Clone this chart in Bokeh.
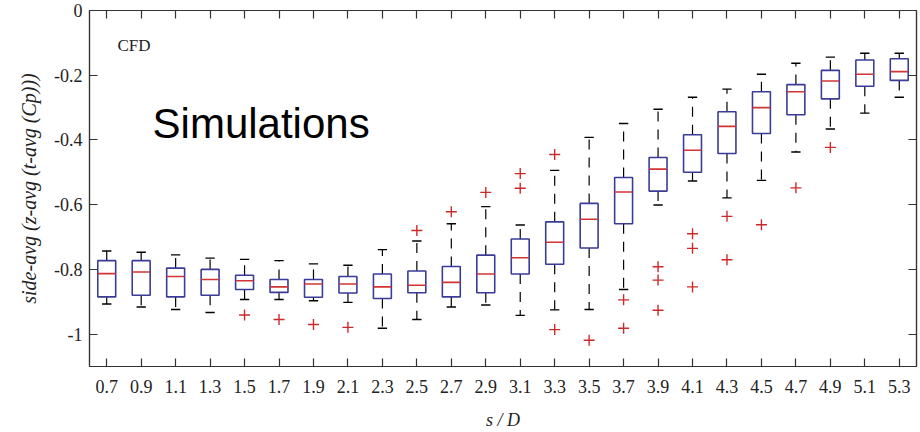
import numpy as np
from bokeh.plotting import figure
from bokeh.models import LinearAxis, FixedTicker, Range1d, Label, CustomJSTickFormatter
from bokeh.embed import file_html
from bokeh.resources import INLINE

labels = ["0.7", "0.9", "1.1", "1.3", "1.5", "1.7", "1.9", "2.1", "2.3", "2.5", "2.7", "2.9",
          "3.1", "3.3", "3.5", "3.7", "3.9", "4.1", "4.3", "4.5", "4.7", "4.9", "5.1", "5.3"]

whisker_hi = [-0.743, -0.747, -0.755, -0.765, -0.769, -0.773, -0.783, -0.787, -0.739, -0.712, -0.659, -0.606,
              -0.663, -0.494, -0.392, -0.349, -0.305, -0.268, -0.243, -0.197, -0.163, -0.144, -0.132, -0.132]
q3 = [-0.773, -0.773, -0.796, -0.800, -0.818, -0.831, -0.831, -0.822, -0.814, -0.805, -0.791, -0.756,
      -0.706, -0.653, -0.596, -0.516, -0.454, -0.384, -0.313, -0.251, -0.229, -0.185, -0.153, -0.149]
median = [-0.813, -0.808, -0.822, -0.831, -0.835, -0.854, -0.845, -0.845, -0.854, -0.849, -0.840, -0.814,
          -0.764, -0.716, -0.645, -0.561, -0.490, -0.432, -0.358, -0.300, -0.251, -0.218, -0.197, -0.189]
q1 = [-0.885, -0.880, -0.885, -0.880, -0.862, -0.871, -0.886, -0.873, -0.890, -0.872, -0.885, -0.872,
      -0.814, -0.784, -0.734, -0.659, -0.558, -0.500, -0.442, -0.380, -0.322, -0.273, -0.234, -0.216]
whisker_lo = [-0.907, -0.916, -0.924, -0.933, -0.893, -0.893, -0.897, -0.902, -0.982, -0.955, -0.916, -0.910,
              -0.942, -0.925, -0.924, -0.862, -0.601, -0.527, -0.579, -0.525, -0.437, -0.366, -0.317, -0.268]

outlier_cat = ["1.5", "1.7", "1.9", "2.1", "2.5", "2.7", "2.9", "3.1", "3.1", "3.3", "3.3", "3.5",
               "3.7", "3.7", "3.9", "3.9", "3.9", "4.1", "4.1", "4.1", "4.3", "4.3", "4.5", "4.7", "4.9"]
outlier_val = [-0.941, -0.955, -0.970, -0.979, -0.680, -0.622, -0.562, -0.504, -0.549, -0.445, -0.986, -1.019,
               -0.894, -0.982, -0.792, -0.833, -0.926, -0.690, -0.735, -0.854, -0.636, -0.770, -0.662, -0.548, -0.423]

y_ticks = [-1.0, -0.8, -0.6, -0.4, -0.2, 0.0]

x = np.arange(1, len(labels) + 1, dtype=float)
ox = np.array([labels.index(c) + 1 for c in outlier_cat], dtype=float)

BOX_W = 0.52
CAP_W = 0.27
BOX_C = "#3b3b98"
MED_C = "#d03434"
OUT_C = "#cc2a2a"
SERIF = "Liberation Serif"

p = figure(width=920, height=432, output_backend="svg", toolbar_location=None,
           x_range=Range1d(0.5, 24.5), y_range=Range1d(-1.1, 0.0),
           min_border_left=89, min_border_right=4, min_border_top=10, min_border_bottom=64)
p.xgrid.visible = False
p.ygrid.visible = False
p.outline_line_color = "#333333"
p.outline_line_width = 1.2
p.background_fill_color = "white"
p.border_fill_color = "white"

# whiskers (dashed) from box edges toward caps
p.segment(x0=x, y0=q3, x1=x, y1=whisker_hi, line_color="black", line_width=1.2, line_dash="10 8")
p.segment(x0=x, y0=q1, x1=x, y1=whisker_lo, line_color="black", line_width=1.2, line_dash="10 8")
# caps
p.segment(x0=x - CAP_W / 2, y0=whisker_hi, x1=x + CAP_W / 2, y1=whisker_hi, line_color="black", line_width=1.4)
p.segment(x0=x - CAP_W / 2, y0=whisker_lo, x1=x + CAP_W / 2, y1=whisker_lo, line_color="black", line_width=1.4)
# boxes
p.vbar(x=x, width=BOX_W, top=q3, bottom=q1, fill_color="white", fill_alpha=0.0,
       line_color=BOX_C, line_width=1.6)
# medians
p.segment(x0=x - BOX_W / 2, y0=median, x1=x + BOX_W / 2, y1=median, line_color=MED_C, line_width=1.6)
# outliers
p.scatter(x=ox, y=outlier_val, marker="cross", size=11, line_color=OUT_C, line_width=1.4)

xfmt = CustomJSTickFormatter(args=dict(labels=labels), code="return labels[Math.round(tick) - 1];")
yfmt = CustomJSTickFormatter(code="""
if (Math.abs(tick) < 1e-9) return '0';
if (Math.abs(tick + 1) < 1e-9) return '-1';
return tick.toFixed(1);
""")
blank = CustomJSTickFormatter(code="return '';")

def style_axis(ax):
    ax.major_tick_in = 8
    ax.major_tick_out = 0
    ax.minor_tick_in = 0
    ax.minor_tick_out = 0
    ax.minor_tick_line_color = None
    ax.axis_line_color = "#333333"
    ax.axis_line_width = 1.2
    ax.major_tick_line_color = "#333333"
    ax.major_tick_line_width = 1.2
    ax.major_label_text_font = SERIF
    ax.major_label_text_font_size = "18px"
    ax.major_label_text_color = "#222222"

xb = p.xaxis[0]
xb.ticker = FixedTicker(ticks=list(x))
xb.formatter = xfmt
style_axis(xb)
xb.major_label_standoff = 13
xb.axis_label = "s / D"
xb.axis_label_text_font = SERIF
xb.axis_label_text_font_style = "italic"
xb.axis_label_text_font_size = "18px"
xb.axis_label_text_color = "#222222"
xb.axis_label_standoff = 14

yl = p.yaxis[0]
yl.ticker = FixedTicker(ticks=y_ticks)
yl.formatter = yfmt
style_axis(yl)
yl.major_label_standoff = 7
yl.axis_label = "side-avg (z-avg (t-avg (Cp)))"
yl.axis_label_text_font = SERIF
yl.axis_label_text_font_style = "italic"
yl.axis_label_text_font_size = "20px"
yl.axis_label_text_color = "#222222"
yl.axis_label_standoff = 11

xt = LinearAxis(ticker=FixedTicker(ticks=list(x)), formatter=blank)
style_axis(xt)
xt.major_label_standoff = 0
p.add_layout(xt, "above")

yr = LinearAxis(ticker=FixedTicker(ticks=y_ticks), formatter=blank)
style_axis(yr)
yr.major_label_standoff = 0
p.add_layout(yr, "right")

p.add_layout(Label(x=1.31, y=-0.109, text="CFD", text_font=SERIF, text_font_size="17px",
                   text_color="#222222", text_align="left", text_baseline="middle"))
p.add_layout(Label(x=2.33, y=-0.350, text="Simulations", text_font="Liberation Sans",
                   text_font_size="42px", text_color="black", text_align="left",
                   text_baseline="alphabetic"))

open("out.html", "w").write(file_html(p, INLINE))
